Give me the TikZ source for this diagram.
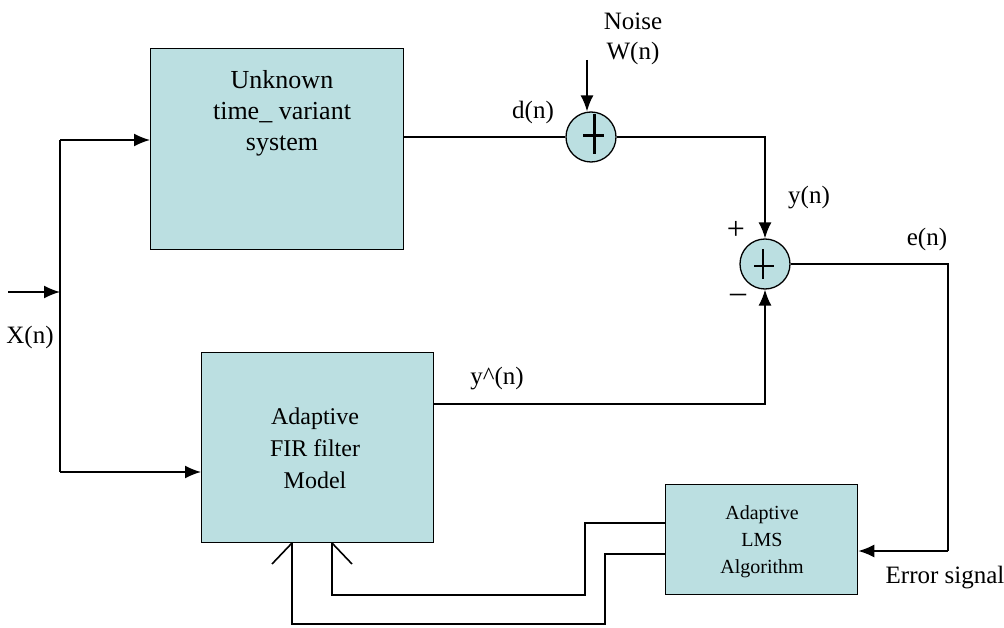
\documentclass[tikz,border=0pt]{standalone}
\usepackage{fontspec}
\setmainfont{Liberation Serif}
\usetikzlibrary{arrows.meta}
\definecolor{boxcyan}{RGB}{187,223,225}
\tikzset{
  blockbox/.style={draw=black, line width=1.3pt, fill=boxcyan, align=center, inner sep=0pt},
  sumnode/.style={circle, draw=black, line width=1.3pt, fill=boxcyan, minimum size=50pt, inner sep=0pt},
  wire/.style={line width=1.6pt},
  arr/.style={wire, -{Latex[length=16pt,width=13pt]}},
  lbl/.style={font=\fontsize{25}{28}\selectfont, inner sep=0pt},
}
\begin{document}
\begin{tikzpicture}[x=1pt,y=-1pt]
\useasboundingbox (0,0) rectangle (1004,628);
\fill[white] (0,0) rectangle (1004,628);

% blocks
\node[blockbox, minimum width=253pt, minimum height=201pt, anchor=north west] (unk) at (150,48) {};
\node[font=\fontsize{26}{31}\selectfont, align=center, inner sep=0pt] (unktxt) at (282,113) {Unknown\\time\_ variant\\system};
\node[blockbox, minimum width=232pt, minimum height=190pt, anchor=north west] (fir) at (201,352) {};
\node[font=\fontsize{24}{32}\selectfont, align=center, inner sep=0pt] (firtxt) at (315,448) {Adaptive\\FIR filter\\Model};
\node[blockbox, minimum width=192pt, minimum height=110pt, anchor=north west] (lms) at (665,484) {};
\node[font=\fontsize{20}{27}\selectfont, align=center, inner sep=0pt] (lmstxt) at (762,542) {Adaptive\\LMS\\Algorithm};

% summing junctions
\node[sumnode] (s1) at (591,137) {};
\node[sumnode] (s2) at (765,264) {};
\draw[line width=3pt] ([xshift=3pt,yshift=-17pt]s1.center) -- ([xshift=3pt,yshift=23pt]s1.center);
\draw[line width=3pt] ([xshift=-8pt,yshift=1pt]s1.center) -- ([xshift=13pt,yshift=1pt]s1.center);
\draw[line width=1.8pt] ([xshift=-2pt,yshift=-15pt]s2.center) -- ([xshift=-2pt,yshift=15pt]s2.center);
\draw[line width=1.8pt] ([xshift=-11pt,yshift=-2pt]s2.center) -- ([xshift=9pt,yshift=-2pt]s2.center);

% coordinates
\coordinate (xin) at (8,292);
\coordinate (jn) at (60,292);
\coordinate (jtop) at (60,140);
\coordinate (jbot) at (60,472);
\coordinate (noise) at (587,60);
\coordinate (ecorner) at (948,264);
\coordinate (ebot) at (948,551);
\coordinate (yh) at (433,404);
\coordinate (fa) at (665,523);
\coordinate (fb) at (585,523);
\coordinate (fc) at (585,595);
\coordinate (fd) at (332,595);
\coordinate (fe) at (332,543);
\coordinate (ga) at (665,554);
\coordinate (gb) at (605,554);
\coordinate (gc) at (605,624);
\coordinate (gd) at (292,624);
\coordinate (ge) at (292,543);

% input
\draw[arr] (xin) -- (jn);
\draw[wire] (jtop) -- (jbot);
\draw[arr] (jtop) -- (unk.west |- jtop);
\draw[arr] (jbot) -- (fir.west |- jbot);

% unknown -> sum1
\draw[wire] (unk.east |- s1.west) -- (s1.west);
\draw[arr] (noise) -- (s1.north -| noise);
\draw[arr] (s1.east) -| (s2.north);

% adaptive filter -> sum2
\draw[arr] (yh) -| (s2.south);

% error
\draw[wire] (s2.east) -- (ecorner) -- (ebot);
\draw[arr] (ebot) -- (lms.east |- ebot);

% feedback to filter
\draw[wire] (fa) -- (fb) -- (fc) -- (fd) -- (fe);
\draw[wire] (fe) -- ++(20,21);
\draw[wire] (ga) -- (gb) -- (gc) -- (gd) -- (ge);
\draw[wire] (ge) -- ++(-20,21);

% labels
\node[lbl] (lnoise) at (633,21) {Noise};
\node[lbl] (lw) at (633,53) {W(n)};
\node[lbl] (ld) at (533,112) {d(n)};
\node[lbl] (ly) at (809,198) {y(n)};
\node[lbl, font=\fontsize{32}{32}\selectfont] (lplus) at (736,230) {+};
\node[lbl, font=\fontsize{32}{32}\selectfont] (lminus) at (738,298) {\textendash};
\node[lbl] (le) at (927,239) {e(n)};
\node[lbl] (lyh) at (497,379) {y\textasciicircum(n)};
\node[lbl] (lx) at (30,337) {X(n)};
\node[lbl] (lerr) at (945,578) {Error signal};
\end{tikzpicture}
\end{document}
